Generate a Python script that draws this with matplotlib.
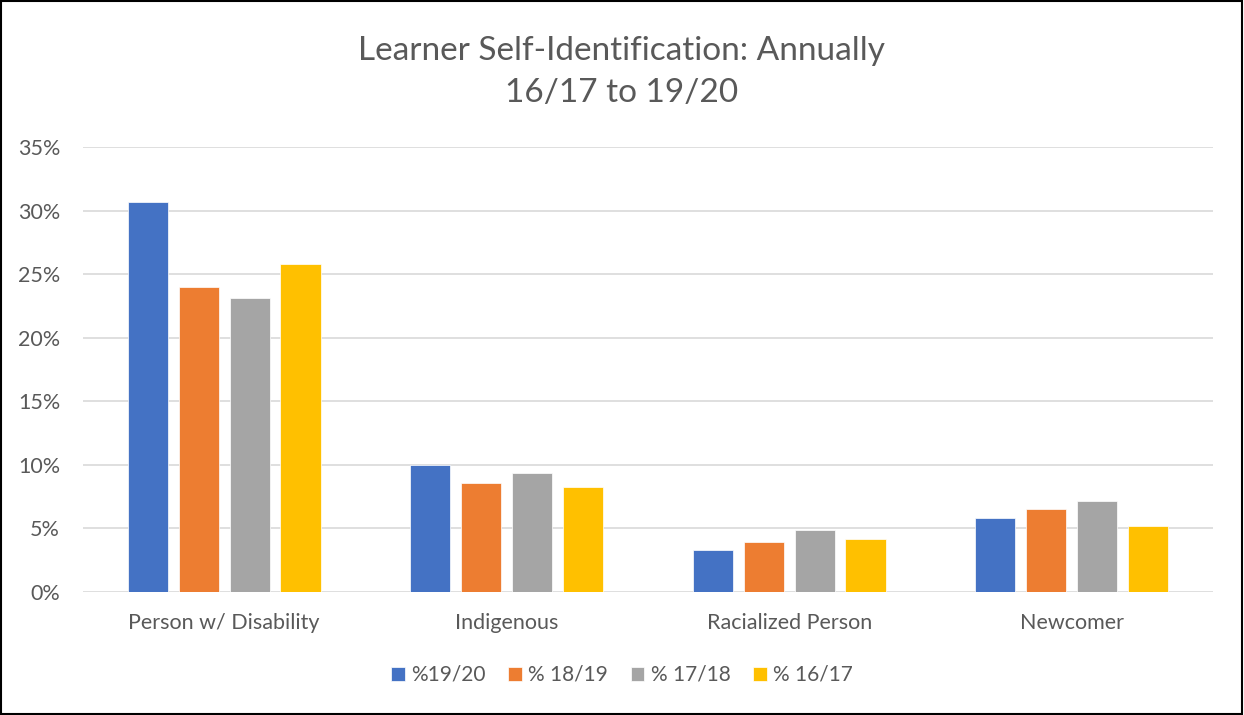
import matplotlib
matplotlib.use("Agg")
import matplotlib.pyplot as plt
import numpy as np
from matplotlib.ticker import FuncFormatter
from matplotlib.patches import Rectangle

plt.rcParams['font.family'] = ['Lato', 'DejaVu Sans']

categories = ["Person w/ Disability", "Indigenous", "Racialized Person", "Newcomer"]
series_names = ["%19/20", "% 18/19", "% 17/18", "% 16/17"]
pct_1920 = [30.7, 10.0, 3.3, 5.85]
pct_1819 = [24.0, 8.55, 3.9, 6.5]
pct_1718 = [23.1, 9.4, 4.85, 7.2]
pct_1617 = [25.8, 8.25, 4.15, 5.2]
colors = ["#4472C4", "#ED7D31", "#A5A5A5", "#FFC000"]

series = [pct_1920, pct_1819, pct_1718, pct_1617]
text_color = "#595959"

fig = plt.figure(figsize=(12.44, 7.15), dpi=100)
ax = fig.add_axes([0.0667, 0.172, 0.9083, 0.622])

x = np.arange(len(categories))
pitch = 0.18
width = 0.142
for i, (vals, name, c) in enumerate(zip(series, series_names, colors)):
    ax.bar(x + (i - 1.5) * pitch, vals, width, color=c, label=name,
           edgecolor="white", linewidth=0.5, zorder=3)

ax.set_xlim(-0.5, len(categories) - 0.5)
ax.set_ylim(0, 35)
ax.set_yticks(np.arange(0, 36, 5))
ax.yaxis.set_major_formatter(FuncFormatter(lambda v, p: f"{v:.0f}%"))
ax.set_xticks(x)
ax.set_xticklabels(categories)
ax.tick_params(axis="both", length=0, labelsize=15.5, colors=text_color)
ax.tick_params(axis="x", pad=15)
ax.tick_params(axis="y", pad=16.5)
ax.grid(axis="y", color="#d9d9d9", linewidth=1.2, zorder=0)
for s in ax.spines.values():
    s.set_visible(False)

fig.text(0.5, 0.9, "Learner Self-Identification: Annually\n16/17 to 19/20",
         ha="center", va="center", fontsize=24, color=text_color, linespacing=1.5)

fig.legend(loc="center", bbox_to_anchor=(0.5, 0.056), ncol=4, frameon=False,
           fontsize=15, handlelength=0.65, handleheight=0.65, handletextpad=0.3,
           columnspacing=1.1, labelcolor=text_color)

fig.patches.append(Rectangle((0.001, 0.001), 0.997, 0.997, transform=fig.transFigure,
                             fill=False, edgecolor="black", linewidth=1.5))

fig.savefig("out.png", dpi=100)
